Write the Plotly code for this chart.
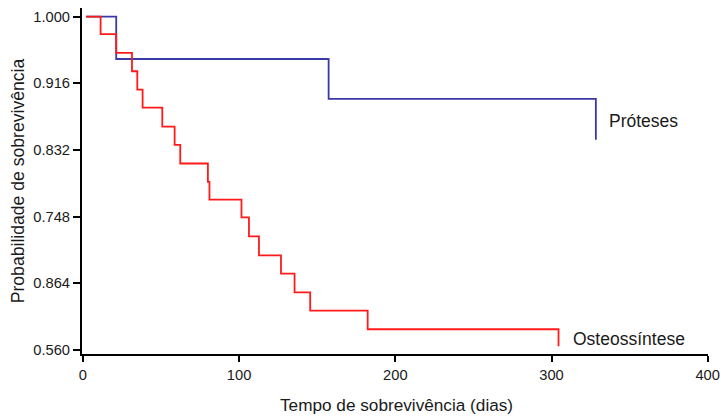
import plotly.graph_objects as go

# Próteses (blue) Kaplan-Meier steps
proteses_days = [2, 21.3, 157.3, 328.4]
proteses_surv = [1.000, 0.9467, 0.8964, 0.8447]

# Osteossíntese (red) Kaplan-Meier steps
osteo_days = [2, 11.3, 21.3, 31.4, 34.8, 38.2, 50.8, 58.7, 62.3, 80.0, 81.0,
              101.5, 106.3, 112.7, 126.8, 135.5, 145.5, 182.3, 304.5]
osteo_surv = [1.000, 0.978, 0.9543, 0.9312, 0.908, 0.8854, 0.8615, 0.8384, 0.8149,
              0.7918, 0.7692, 0.7469, 0.7229, 0.699, 0.676, 0.6524, 0.6294, 0.6058, 0.5844]

y_tickvals = [1.000, 0.916, 0.832, 0.748, 0.664, 0.580]
y_ticktext = ["1.000", "0.916", "0.832", "0.748", "0.864", "0.560"]
x_tickvals = [0, 100, 200, 300, 400]

BLUE = "#3a3aa6"
RED = "#ff1a1a"
TXT = "#1a1a1a"
FONT = "Liberation Sans, Arial, Helvetica, sans-serif"

fig = go.Figure()
fig.add_trace(go.Scatter(x=proteses_days, y=proteses_surv, mode="lines",
                         line=dict(shape="hv", color=BLUE, width=1.8),
                         showlegend=False, hoverinfo="skip"))
fig.add_trace(go.Scatter(x=osteo_days, y=osteo_surv, mode="lines",
                         line=dict(shape="hv", color=RED, width=1.8),
                         showlegend=False, hoverinfo="skip"))

fig.update_layout(
    width=721, height=417,
    margin=dict(l=82, r=13, t=8, b=62.5, autoexpand=False),
    paper_bgcolor="white", plot_bgcolor="white",
    font=dict(family=FONT, color=TXT, size=14.7),
    xaxis=dict(range=[-0.6, 400.2], tickvals=x_tickvals, ticktext=[str(v) for v in x_tickvals],
               showline=True, linecolor="black", linewidth=2, ticks="outside", ticklen=6,
               tickwidth=2, tickcolor="black", showgrid=False, zeroline=False,
               tickfont=dict(size=14.7, color=TXT)),
    yaxis=dict(range=[0.5746, 1.011], tickvals=y_tickvals, ticktext=y_ticktext,
               showline=True, linecolor="black", linewidth=2, ticks="outside", ticklen=7,
               tickwidth=2, tickcolor="black", showgrid=False, zeroline=False,
               tickfont=dict(size=14.7, color=TXT)),
    annotations=[
        dict(text="Próteses", x=335.5, y=0.8687, xref="x", yref="y",
             xanchor="left", yanchor="middle", showarrow=False,
             font=dict(size=17.5, color=TXT, family=FONT)),
        dict(text="Osteossíntese", x=312.4, y=0.5941, xref="x", yref="y",
             xanchor="left", yanchor="middle", showarrow=False,
             font=dict(size=17.5, color=TXT, family=FONT)),
        dict(text="Tempo de sobrevivência (dias)", x=0.5024, y=-0.1486,
             xref="paper", yref="paper", xanchor="center", yanchor="middle",
             showarrow=False, font=dict(size=17.2, color=TXT, family=FONT)),
        dict(text="Probabilidade de sobrevivência", x=-0.1022, y=0.4993,
             xref="paper", yref="paper", xanchor="center", yanchor="middle",
             textangle=-90, showarrow=False, font=dict(size=17.6, color=TXT, family=FONT)),
    ],
)

fig.write_html(
    "out.html",
    config={"displayModeBar": False, "staticPlot": True},
    post_script="document.body.style.margin='0';document.body.style.overflow='hidden';",
)
